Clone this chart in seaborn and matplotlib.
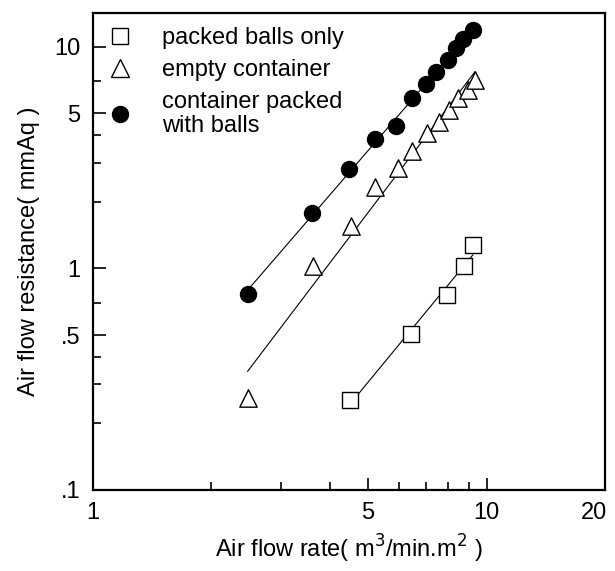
import matplotlib
matplotlib.use("Agg")
import matplotlib.pyplot as plt
import matplotlib.ticker as mticker
import matplotlib.transforms as mtrans
import numpy as np
import pandas as pd
import seaborn as sns

# readings taken off the log-log plot
balls_x = [4.51, 6.41, 7.93, 8.79, 9.24]
balls_y = [0.254, 0.508, 0.758, 1.02, 1.27]

empty_x = [2.47, 3.62, 4.52, 5.22, 5.97, 6.45, 7.05, 7.57, 8.03, 8.48, 8.96, 9.35]
empty_y = [0.259, 1.02, 1.55, 2.32, 2.83, 3.37, 4.10, 4.60, 5.19, 5.86, 6.40, 7.10]

packed_x = [2.47, 3.60, 4.48, 5.22, 5.88, 6.45, 7.01, 7.43, 7.97, 8.35, 8.73, 9.26]
packed_y = [0.77, 1.78, 2.81, 3.82, 4.40, 5.90, 6.79, 7.69, 8.74, 9.87, 10.8, 11.9]

labels = ["packed balls only", "empty container", "container packed\nwith balls"]
x_ticks = [1, 5, 10, 20]
x_ticklabels = ["1", "5", "10", "20"]
y_ticks = [0.1, 0.5, 1, 5, 10]
y_ticklabels = [".1", ".5", "1", "5", "10"]

sns.set_style("ticks")
plt.rcParams["font.family"] = ["Liberation Sans", "DejaVu Sans"]
for key in ["text.color", "axes.labelcolor", "xtick.color", "ytick.color", "axes.edgecolor"]:
    plt.rcParams[key] = "black"

fig = plt.figure(figsize=(6.15, 5.71), dpi=100)
ax = fig.add_axes([0.1512, 0.1419, 0.8325, 0.8353])
ax.set_xscale("log")
ax.set_yscale("log")


def fit_line(xs, ys):
    k, b = np.polyfit(np.log10(xs), np.log10(ys), 1)
    xx = np.array([min(xs), max(xs)])
    return pd.DataFrame({"x": xx, "y": 10 ** (b + k * np.log10(xx))})


series = [
    (balls_x, balls_y, "s", "white", 11),
    (empty_x, empty_y, "^", "white", 12.5),
    (packed_x, packed_y, "o", "black", 11.5),
]

handles = []
for (xs, ys, mk, fc, ms), lab in zip(series, labels):
    fl = fit_line(xs, ys)
    sns.lineplot(data=fl, x="x", y="y", color="black", lw=0.8, ax=ax, zorder=2)
    df = pd.DataFrame({"x": xs, "y": ys})
    sns.scatterplot(data=df, x="x", y="y", marker=mk, s=ms ** 2, color=fc,
                    edgecolor="black", linewidth=1.0, ax=ax, zorder=3)
    handles.append(plt.Line2D([], [], ls="none", marker=mk, markersize=ms,
                              markerfacecolor=fc, markeredgecolor="black",
                              markeredgewidth=1.0, label=lab))

ax.set_xlim(1, 20)
ax.set_ylim(0.1, 14.2)

ax.xaxis.set_major_locator(mticker.FixedLocator(x_ticks))
ax.xaxis.set_major_formatter(mticker.FixedFormatter(x_ticklabels))
ax.xaxis.set_minor_locator(mticker.FixedLocator([2, 3, 4, 6, 7, 8, 9]))
ax.xaxis.set_minor_formatter(mticker.NullFormatter())
ax.yaxis.set_major_locator(mticker.FixedLocator(y_ticks))
ax.yaxis.set_major_formatter(mticker.FixedFormatter(y_ticklabels))
ax.yaxis.set_minor_locator(mticker.FixedLocator([0.2, 0.3, 0.4, 0.7, 2, 3, 4, 7]))
ax.yaxis.set_minor_formatter(mticker.NullFormatter())

ax.tick_params(which="both", direction="in", width=1.2, labelsize=17)
ax.tick_params(axis="y", pad=9)
ax.tick_params(axis="x", pad=9)
ax.tick_params(which="major", length=9)
ax.tick_params(which="minor", length=6)
for sp in ax.spines.values():
    sp.set_linewidth(1.6)

# nudge the last x label so it stays inside the figure
lab20 = ax.get_xticklabels()[-1]
lab20.set_transform(lab20.get_transform() + mtrans.ScaledTranslation(-8 / 72, 0, fig.dpi_scale_trans))

ax.set_xlabel("Air flow rate( m$^3$/min.m$^2$ )", fontsize=17, labelpad=6)
ax.set_ylabel("Air flow resistance( mmAq )", fontsize=17, labelpad=10)

leg = ax.legend(handles=handles, loc="upper left", frameon=False, fontsize=17,
                handletextpad=1.25, labelspacing=0.42, borderaxespad=0.0,
                handlelength=1.0, bbox_to_anchor=(0.012, 0.99))
for t in leg.get_texts():
    t.set_linespacing(1.1)

fig.savefig("out.png", dpi=100)
